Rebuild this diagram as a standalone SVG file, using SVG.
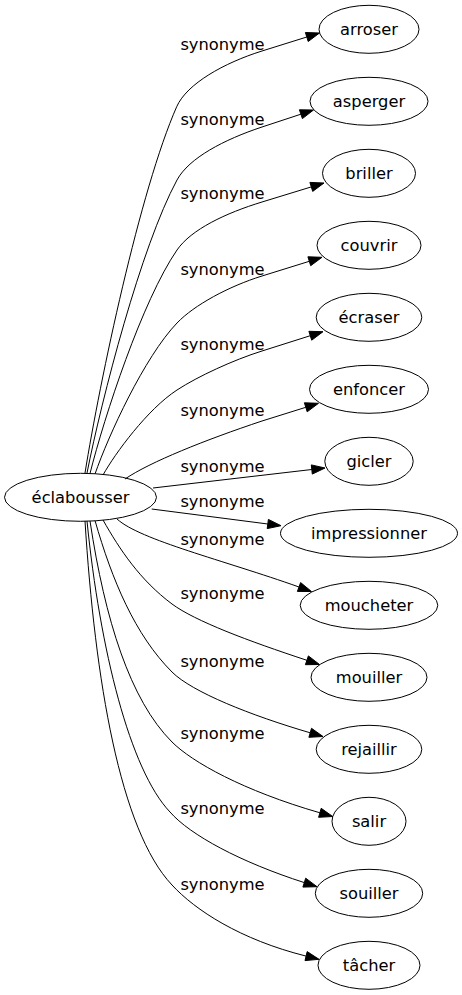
<svg xmlns="http://www.w3.org/2000/svg" width="462" height="995" viewBox="0 0 462 995">
<style>
.n ellipse{fill:none;stroke:#000;stroke-width:1}
.n text,.lbl text{font-family:"DejaVu Sans",sans-serif;font-size:16.3px;fill:#000;text-anchor:middle}
.e path{fill:none;stroke:#000;stroke-width:1}
.e polygon{fill:#000;stroke:#000;stroke-width:1}
</style>
<rect width="462" height="995" fill="#fff"/>
<g id="edges" class="e">
<path d="M85,473 C100,380 140,190 176.7,106.7 C186.8,83.8 223.8,63 262,51 L306.8,37"/>
<polygon points="319.5,33 308.2,41.5 305.4,32.5"/>
<path d="M87,473 C101.8,398.6 141,246.5 177,180 C188.9,158 224,139.6 262,127 L300.9,114.2"/>
<polygon points="313.5,110 302.4,118.6 299.4,109.8"/>
<path d="M90,473.5 C104.3,416.7 142.2,300.7 177,250 C191.2,229.4 225.7,213.1 262,202 L311.3,186.9"/>
<polygon points="324,183 312.7,191.4 309.9,182.4"/>
<path d="M95,474 C108.4,435.6 144.2,357.3 177,323 C194.3,305 228.6,286.4 262,276 L309.3,261.3"/>
<polygon points="322,257.3 310.7,265.7 307.9,256.8"/>
<path d="M103,475 C115.1,453.4 147.4,409.3 177,390 C198,376.3 233.4,360 262,351 L310.3,335.7"/>
<polygon points="323,331.7 311.7,340.2 308.9,331.3"/>
<path d="M125,479 C150,462 205,440 262,421 L305.8,407.3"/>
<polygon points="318.5,403.3 307.2,411.8 304.4,402.8"/>
<path d="M153,488 L311.8,469.5"/>
<polygon points="325,468 312.3,474.1 311.3,464.9"/>
<path d="M151.7,509 L267.8,524"/>
<polygon points="281,525.7 267.2,528.6 268.4,519.4"/>
<path d="M117,519 C140,540 223.6,560.2 299,587"/>
<polygon points="311.5,591.5 297.4,591.4 300.6,582.6"/>
<path d="M103,520 C120,550 140,580 172,604 C195,621 248,640.9 306.9,660.3"/>
<polygon points="319.5,664.5 305.4,664.7 308.4,655.9"/>
<path d="M95,520.5 C112,580 135,635 172,672 C192,692 250.7,715.4 310.2,732.8"/>
<polygon points="323,736.5 308.9,737.3 311.5,728.3"/>
<path d="M90,521 C105,620 130,700 172,742 C192,762 243,790.6 319.9,812.8"/>
<polygon points="332.7,816.5 318.6,817.3 321.2,808.3"/>
<path d="M87,521 C100,650 130,770 170,812 C190,835 240.5,862.1 304.3,882.6"/>
<polygon points="317,886.7 302.9,887.1 305.7,878.2"/>
<path d="M85,521 C95,680 120,830 172,885 C195,910 240.1,939.6 306.1,956.1"/>
<polygon points="319,959.3 305,960.6 307.2,951.6"/>
</g>
<g id="edge-labels" class="lbl">
<text x="222.5" y="50">synonyme</text>
<text x="222.5" y="125">synonyme</text>
<text x="222.5" y="199">synonyme</text>
<text x="222.5" y="275">synonyme</text>
<text x="222.5" y="350">synonyme</text>
<text x="222.5" y="416">synonyme</text>
<text x="222.5" y="472">synonyme</text>
<text x="222.5" y="507">synonyme</text>
<text x="222.5" y="545">synonyme</text>
<text x="222.5" y="599">synonyme</text>
<text x="222.5" y="667">synonyme</text>
<text x="222.5" y="739">synonyme</text>
<text x="222.5" y="814">synonyme</text>
<text x="222.5" y="890">synonyme</text>
</g>
<g id="node-eclabousser" class="n"><ellipse cx="80.5" cy="497.3" rx="76" ry="24"/><text x="80.5" y="502.8">éclabousser</text></g>
<g id="node-arroser" class="n"><ellipse cx="369" cy="29.3" rx="50" ry="24"/><text x="369" y="34.8">arroser</text></g>
<g id="node-asperger" class="n"><ellipse cx="369" cy="101.3" rx="59" ry="24"/><text x="369" y="106.8">asperger</text></g>
<g id="node-briller" class="n"><ellipse cx="369" cy="173.3" rx="46.5" ry="24"/><text x="369" y="178.8">briller</text></g>
<g id="node-couvrir" class="n"><ellipse cx="369" cy="245.3" rx="52" ry="24"/><text x="369" y="250.8">couvrir</text></g>
<g id="node-ecraser" class="n"><ellipse cx="369" cy="317.3" rx="52.8" ry="24"/><text x="369" y="322.8">écraser</text></g>
<g id="node-enfoncer" class="n"><ellipse cx="369" cy="389.3" rx="59.5" ry="24"/><text x="369" y="394.8">enfoncer</text></g>
<g id="node-gicler" class="n"><ellipse cx="369" cy="461.3" rx="44.2" ry="24"/><text x="369" y="466.8">gicler</text></g>
<g id="node-impressionner" class="n"><ellipse cx="369" cy="533.3" rx="88.5" ry="24"/><text x="369" y="538.8">impressionner</text></g>
<g id="node-moucheter" class="n"><ellipse cx="369" cy="605.3" rx="68.8" ry="24"/><text x="369" y="610.8">moucheter</text></g>
<g id="node-mouiller" class="n"><ellipse cx="369" cy="677.3" rx="58" ry="24"/><text x="369" y="682.8">mouiller</text></g>
<g id="node-rejaillir" class="n"><ellipse cx="369" cy="749.3" rx="52.8" ry="24"/><text x="369" y="754.8">rejaillir</text></g>
<g id="node-salir" class="n"><ellipse cx="369" cy="821.3" rx="37" ry="24"/><text x="369" y="826.8">salir</text></g>
<g id="node-souiller" class="n"><ellipse cx="369" cy="893.3" rx="53.7" ry="24"/><text x="369" y="898.8">souiller</text></g>
<g id="node-tacher" class="n"><ellipse cx="369" cy="965.3" rx="51" ry="24"/><text x="369" y="970.8">tâcher</text></g>
</svg>
